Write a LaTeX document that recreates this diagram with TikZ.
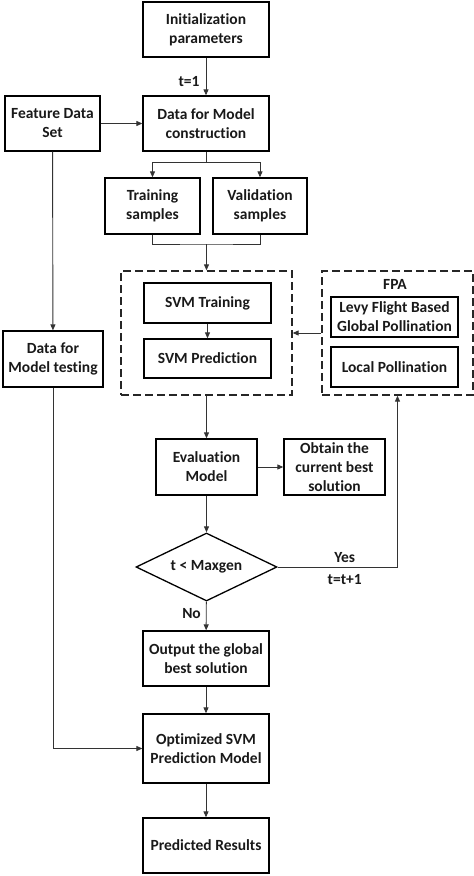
\documentclass[tikz,border=0pt]{standalone}
\usepackage{fontspec}
\setmainfont{Carlito}[Ligatures=CommonOff]
\usetikzlibrary{arrows.meta,shapes.geometric}

\begin{document}
\begin{tikzpicture}[x=1pt,y=-1pt,every text node part/.style={align=center},
  font=\bfseries\fontsize{15.5}{19}\selectfont,
  box/.style={draw=black,line width=1.3pt,inner sep=0pt,text=black!90},
  dashbox/.style={draw=black!85,line width=1.3pt,dash pattern=on 8pt off 4pt,inner sep=0pt},
  link/.style={draw=black!80,line width=0.9pt},
  arr/.style={link,-{Triangle[length=6pt,width=5pt]}},
  lbl/.style={inner sep=0pt,text=black!90}]
\useasboundingbox (0,0) rectangle (474,876);
\node[box,minimum width=126pt,minimum height=55pt] (init) at (206,29.5) {Initialization\\parameters};
\node[box,minimum width=126pt,minimum height=55pt] (data) at (206,123.5) {Data for Model\\construction};
\node[box,minimum width=95pt,minimum height=55pt] (feat) at (52.5,123.5) {Feature Data\\Set};
\node[box,minimum width=95pt,minimum height=56pt] (train) at (152.5,206) {Training\\samples};
\node[box,minimum width=94pt,minimum height=56pt] (valid) at (260,206) {Validation\\samples};
\node[dashbox,minimum width=171pt,minimum height=124pt] (svmbox) at (206.5,333) {};
\node[box,minimum width=127pt,minimum height=40pt] (svmt) at (207.5,303) {SVM Training};
\node[box,minimum width=127pt,minimum height=39pt] (svmp) at (207.5,358.5) {SVM Prediction};
\node[dashbox,minimum width=151pt,minimum height=124pt] (fpabox) at (397.5,333) {};
\node[lbl] (fpa) at (395,284) {FPA};
\node[box,minimum width=127pt,minimum height=40pt] (levy) at (394.5,317) {Levy Flight Based\\Global Pollination};
\node[box,minimum width=127pt,minimum height=40pt] (local) at (394.5,367) {Local Pollination};
\node[box,minimum width=100pt,minimum height=56pt] (test) at (53,359) {Data for\\Model testing};
\node[box,minimum width=101pt,minimum height=56pt] (eval) at (206.5,467) {Evaluation\\Model};
\node[box,minimum width=101pt,minimum height=56pt] (best) at (334.5,467) {Obtain the\\current best\\solution};
\node[box,shape=diamond,aspect=2,minimum width=141pt,minimum height=68pt] (dec) at (206.5,567) {t < Maxgen};
\node[box,minimum width=126pt,minimum height=55pt] (out) at (206,658.5) {Output the global\\best solution};
\node[box,minimum width=126pt,minimum height=69pt] (opt) at (206,748.5) {Optimized SVM\\Prediction Model};
\node[box,minimum width=126pt,minimum height=55pt] (res) at (206,845.5) {Predicted Results};
\coordinate (split) at (206,162);
\coordinate (merge) at (206.5,244);
\draw[arr] (init) -- (data) node[lbl,pos=0.64,left=6pt] {t=1};
\draw[arr] (feat) -- (data);
\draw[link] (data.south) -- (split);
\draw[arr] (split) -| (train.north);
\draw[arr] (split) -| (valid.north);
\draw[link] (train.south) |- (merge) -| (valid.south);
\draw[arr] (merge) -- (svmbox.north);
\draw[arr] (svmt) -- (svmp);
\draw[arr] (fpabox.west) -- (svmbox.east);
\draw[arr] (feat) -- (test);
\draw[arr] (svmbox.south) -- (eval.north);
\draw[arr] (eval) -- (best);
\draw[arr] (eval) -- (dec);
\draw[arr] (dec.east) -| (fpabox.south) node[lbl,pos=0.28,above=4pt] {Yes} node[lbl,pos=0.28,below=7pt] {t=t+1};
\draw[arr] (dec) -- (out) node[lbl,pos=0.4,left=5pt] {No};
\draw[arr] (out) -- (opt);
\draw[arr] (test.south) |- (opt.west);
\draw[arr] (opt) -- (res);
\end{tikzpicture}
\end{document}
